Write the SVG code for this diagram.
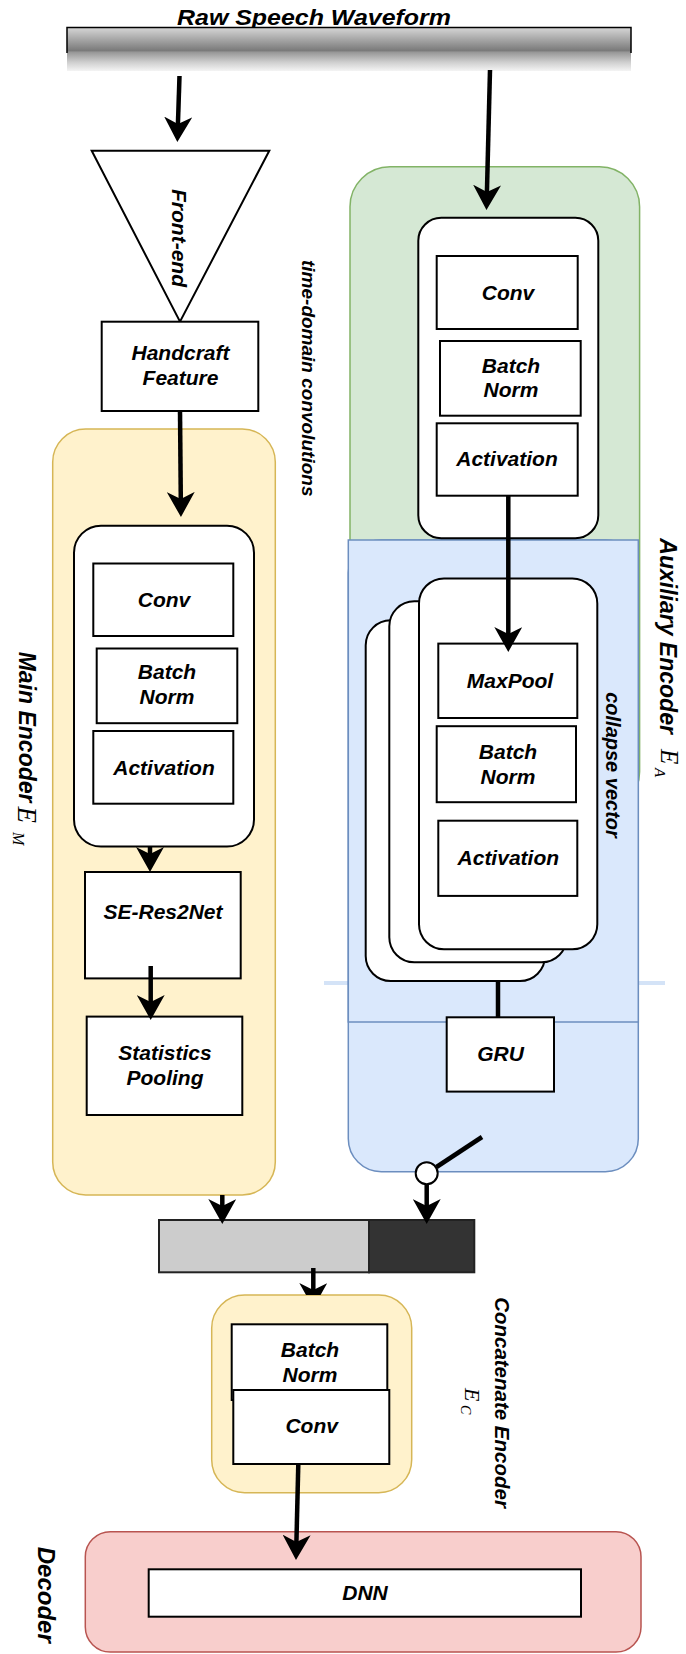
<svg xmlns="http://www.w3.org/2000/svg" width="686" height="1654" viewBox="0 0 686 1654">
<defs>
<linearGradient id="barGrad" x1="0" y1="0" x2="0" y2="1">
<stop offset="0" stop-color="#d6d6d6"/>
<stop offset="0.53" stop-color="#7a7a7a"/>
<stop offset="0.57" stop-color="#979797"/>
<stop offset="0.8" stop-color="#cfcfcf"/>
<stop offset="1" stop-color="#f4f4f4"/>
</linearGradient>
<marker id="arrow" markerUnits="userSpaceOnUse" markerWidth="26" markerHeight="28" viewBox="0 0 26 28" refX="8" refY="14" orient="auto"><path d="M0,0 L25,14 L0,28 L7,14 Z" fill="#000"/></marker>
<clipPath id="clipConcat"><rect x="0" y="0" width="686" height="1295"/></clipPath>
</defs>
<style>
.t { font-family: "Liberation Sans", Arial, Helvetica, sans-serif; font-weight: bold; font-style: italic; fill: #000; }
.c { text-anchor: middle; font-size: 21px; }
.m { font-family: "Liberation Serif", "Times New Roman", serif; font-style: italic; fill: #000; }
.box { fill: #fff; stroke: #000; stroke-width: 2; }
.conn { stroke: #000; stroke-width: 4.5; fill: none; }
.arr { marker-end: url(#arrow); }
.yellow { fill: #fff2cc; stroke: #d6b656; stroke-width: 1.5; }
.green { fill: #d5e8d4; stroke: #82b366; stroke-width: 1.5; }
.blue { fill: #dae8fc; stroke: #6c8ebf; stroke-width: 1.5; }
.red { fill: #f8cecc; stroke: #b85450; stroke-width: 1.5; }
</style>

<g id="title">
<text class="t" x="314" y="25" font-size="22" text-anchor="middle" textLength="274" lengthAdjust="spacingAndGlyphs">Raw Speech Waveform</text>
</g>

<g id="waveform">
<rect x="67" y="27.5" width="564" height="43.5" fill="url(#barGrad)"/>
<path d="M67,53 V27.5 H631 V53" fill="none" stroke="#000" stroke-width="1.5"/>
</g>

<g id="front-end">
<polygon class="box" points="91.7,150.7 269.3,150.7 180,321.7"/>
<text class="t" font-size="21" text-anchor="middle" transform="translate(172,238) rotate(90)">Front-end</text>
</g>

<g id="handcraft-feature">
<rect class="box" x="101.7" y="321.7" width="156.6" height="89.3"/>
<text class="t c" x="180.5" y="360">Handcraft</text>
<text class="t c" x="180.5" y="385">Feature</text>
</g>

<g id="time-domain-label">
<text class="t" font-size="19" transform="translate(302,260) rotate(90)">time-domain convolutions</text>
</g>

<g id="main-encoder">
<rect class="yellow" x="52.7" y="429" width="222.6" height="766" rx="33" ry="33"/>
<text class="t" font-size="23" transform="translate(18.5,651.7) rotate(90)">Main Encoder</text>
<text class="m" font-size="27" transform="translate(18,806.5) rotate(90)">E</text>
<text class="m" font-size="16" transform="translate(12.5,832) rotate(90)">M</text>
</g>

<g id="main-conv-block">
<rect class="box" x="74" y="525.7" width="180" height="320.8" rx="27" ry="27"/>
<rect class="box" x="93.3" y="563.5" width="140" height="72.5"/>
<text class="t c" x="164" y="607">Conv</text>
<rect class="box" x="96.7" y="648.5" width="140.6" height="74.7"/>
<text class="t c" x="167" y="678.5">Batch</text>
<text class="t c" x="167" y="704">Norm</text>
<rect class="box" x="93.3" y="731" width="140" height="72.7"/>
<text class="t c" x="164" y="774.5">Activation</text>
</g>

<g id="se-res2net">
<rect class="box" x="85" y="872" width="155.7" height="106.4"/>
<text class="t c" x="163" y="919">SE-Res2Net</text>
</g>

<g id="statistics-pooling">
<rect class="box" x="86.7" y="1016.6" width="155.6" height="98.4"/>
<text class="t c" x="165" y="1060">Statistics</text>
<text class="t c" x="165" y="1085">Pooling</text>
</g>

<g id="auxiliary-encoder">
<rect class="green" x="350" y="166.7" width="289.6" height="645" rx="40" ry="40"/>
<line x1="324" y1="983" x2="665" y2="983" stroke="#d4e3f7" stroke-width="4"/>
<rect class="blue" x="348.3" y="540" width="290" height="631.7" rx="33" ry="33"/>
<rect class="blue" x="348.3" y="540" width="290" height="482"/>
<text class="t" font-size="23" transform="translate(660,538.3) rotate(90)">Auxiliary Encoder</text>
<text class="m" font-size="25" transform="translate(661,749) rotate(90)">E</text>
<text class="m" font-size="15" transform="translate(655,768) rotate(90)">A</text>
</g>

<g id="aux-conv-block">
<rect class="box" x="418.3" y="217.7" width="180" height="320.6" rx="23" ry="23"/>
<rect class="box" x="436.7" y="256" width="141" height="73"/>
<text class="t c" x="508" y="299.5">Conv</text>
<rect class="box" x="440" y="341" width="140.7" height="74.7"/>
<text class="t c" x="511" y="372.7">Batch</text>
<text class="t c" x="511" y="397.3">Norm</text>
<rect class="box" x="436.7" y="423.3" width="141" height="72.4"/>
<text class="t c" x="507" y="466">Activation</text>
</g>

<g id="aux-pool-stack">
<rect class="box" x="365.7" y="620.3" width="179.3" height="360.7" rx="25" ry="25"/>
<rect class="box" x="389.3" y="601.3" width="177.4" height="361" rx="25" ry="25"/>
<rect class="box" x="419" y="578.4" width="178.3" height="370.9" rx="25" ry="25"/>
<rect class="box" x="438.3" y="643.6" width="139" height="74.4"/>
<text class="t c" x="510" y="688">MaxPool</text>
<rect class="box" x="436.7" y="726.2" width="139.3" height="76"/>
<text class="t c" x="508" y="758.7">Batch</text>
<text class="t c" x="508" y="784">Norm</text>
<rect class="box" x="438.3" y="820.7" width="139" height="75.2"/>
<text class="t c" x="508.3" y="865">Activation</text>
</g>

<g id="collapse-vector-label">
<text class="t" font-size="20" text-anchor="middle" transform="translate(606,765) rotate(90)">collapse vector</text>
</g>

<g id="gru">
<rect class="box" x="446.7" y="1017.3" width="107.3" height="74.3"/>
<text class="t c" x="500.5" y="1061">GRU</text>
</g>

<g id="concat-vector">
<rect x="159" y="1220" width="210" height="52.3" fill="#cccccc" stroke="#222" stroke-width="2"/>
<rect x="369" y="1220" width="105.3" height="52.3" fill="#333333" stroke="#222" stroke-width="2"/>
</g>

<g id="concatenate-encoder">
<rect class="yellow" x="211.7" y="1295" width="200" height="197.7" rx="33" ry="33"/>
<rect class="box" x="231.7" y="1324.3" width="155.6" height="75.7"/>
<text class="t c" x="310" y="1356.7">Batch</text>
<text class="t c" x="310" y="1381.7">Norm</text>
<rect class="box" x="233.3" y="1390" width="156" height="74"/>
<text class="t c" x="311.7" y="1433">Conv</text>
<text class="t" font-size="20.5" text-anchor="middle" transform="translate(495,1402.5) rotate(90)">Concatenate Encoder</text>
<text class="m" font-size="22" transform="translate(465,1388) rotate(90)">E</text>
<text class="m" font-size="14" transform="translate(460.5,1405) rotate(90)">C</text>
</g>

<g id="decoder">
<rect class="red" x="85.3" y="1531.7" width="555.7" height="120.3" rx="25" ry="25"/>
<rect class="box" x="148.7" y="1569.3" width="432.3" height="47.4"/>
<text class="t c" x="365" y="1600">DNN</text>
<text class="t" font-size="24" transform="translate(37.5,1546.7) rotate(90)">Decoder</text>
</g>

<g id="connectors">
<path class="conn arr" d="M179.5,76 L177.9,125"/>
<path class="conn arr" d="M490,70 L486.9,193"/>
<path class="conn arr" d="M180,411 L180.8,500"/>
<path class="conn arr" d="M150,846 L150,855"/>
<path class="conn arr" d="M150.7,966 L150.7,1003"/>
<path class="conn arr" d="M508.3,496 L508.3,635"/>
<path class="conn" d="M498,981 L498,1017"/>
<path class="conn arr" d="M222.3,1195 L222.3,1207"/>
<path class="conn" d="M482,1137 L436.5,1167"/>
<circle cx="426.7" cy="1173.3" r="11" fill="#fff" stroke="#000" stroke-width="2"/>
<path class="conn arr" d="M426.7,1184.3 L426.7,1207"/>
<path class="conn arr" clip-path="url(#clipConcat)" d="M313.3,1268 L313.3,1291"/>
<path class="conn arr" d="M298.3,1464 L296.4,1543"/>
</g>
</svg>
